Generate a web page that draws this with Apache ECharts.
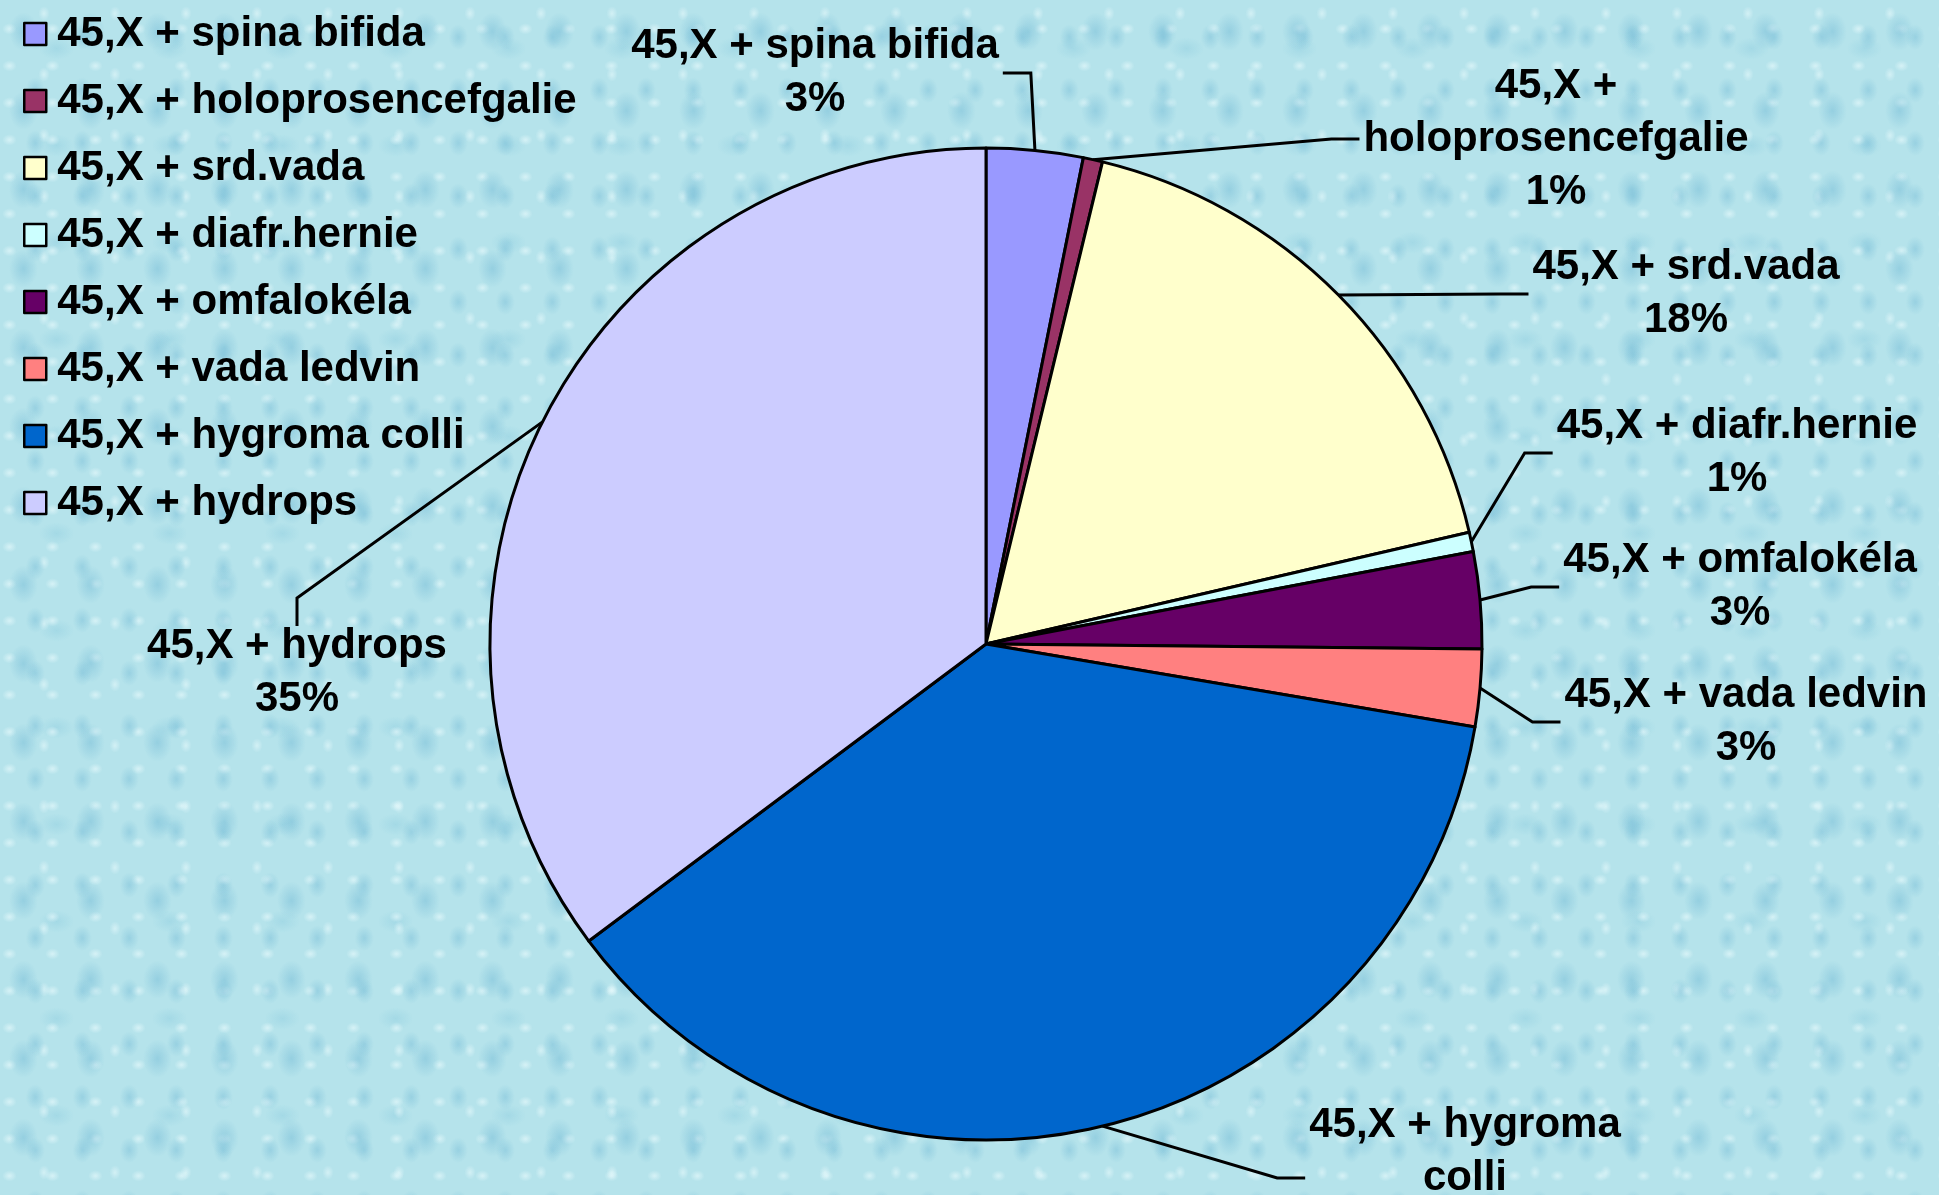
<!DOCTYPE html>
<html>
<head>
<meta charset="utf-8">
<title>45,X</title>
<script src="https://cdn.jsdelivr.net/npm/echarts@6/dist/echarts.min.js"></script>
<style>
  html, body {
    margin: 0;
    padding: 0;
    width: 100%;
    height: 100%;
    overflow: hidden;
  }
  body {
    background-color: #b5e3eb;
    background-image:
      radial-gradient(ellipse 18px 24px at 35% 40%, rgba(105, 180, 210, 0.42), rgba(105, 180, 210, 0) 80%),
      radial-gradient(ellipse 12px 16px at 75% 70%, rgba(105, 180, 210, 0.38), rgba(105, 180, 210, 0) 80%),
      radial-gradient(ellipse 9px 7px at 22% 78%, rgba(240, 253, 255, 0.55), rgba(240, 253, 255, 0) 80%),
      radial-gradient(ellipse 7px 9px at 62% 22%, rgba(240, 253, 255, 0.5), rgba(240, 253, 255, 0) 80%),
      radial-gradient(ellipse 22px 14px at 50% 50%, rgba(125, 195, 218, 0.3), rgba(125, 195, 218, 0) 80%);
    background-size: 67px 79px, 47px 53px, 43px 37px, 71px 61px, 113px 97px;
  }
  #chart {
    width: 1939px;
    height: 1195px;
  }
</style>
</head>
<body>
<div id="chart"></div>
<script>
// kategorie a pocty pripadu
const categories = [
  '45,X + spina bifida',
  '45,X + holoprosencefgalie',
  '45,X + srd.vada',
  '45,X + diafr.hernie',
  '45,X + omfalokéla',
  '45,X + vada ledvin',
  '45,X + hygroma colli',
  '45,X + hydrops'
];
const counts = [5, 1, 28, 1, 5, 4, 59, 56];

// texty popisku (zalomeni jako v puvodnim grafu)
const labelText = [
  '45,X + spina bifida',
  '45,X +\nholoprosencefgalie',
  '45,X + srd.vada',
  '45,X + diafr.hernie',
  '45,X + omfalokéla',
  '45,X + vada ledvin',
  '45,X + hygroma\ncolli',
  '45,X + hydrops'
];

const colors = ['#9999ff', '#993366', '#ffffcc', '#ccffff', '#660066', '#ff8080', '#0066cc', '#ccccff'];

// umisteni popisku (stred bloku) a strana, kam vede odkazova cara
const labelPos = [[815, 73], [1556, 139], [1686, 294], [1737, 453], [1740, 587], [1746, 722], [1465, 1178], [297, 673]];
const lineSide = ['right', 'left', 'left', 'left', 'left', 'left', 'left', 'top'];
const elbow = 28;

const chart = echarts.init(document.getElementById('chart'));

const option = {
  animation: false,
  backgroundColor: 'transparent',
  color: colors,
  legend: {
    orient: 'vertical',
    left: 18,
    top: 8,
    itemWidth: 22,
    itemHeight: 22,
    itemGap: 25,
    icon: 'rect',
    itemStyle: {
      borderColor: '#000',
      borderWidth: 2.5
    },
    textStyle: {
      color: '#000',
      fontFamily: 'Liberation Sans, Arial, sans-serif',
      fontWeight: 'bold',
      fontSize: 42,
      lineHeight: 42,
      padding: [0, 0, 0, 6]
    },
    data: categories
  },
  series: [
    {
      type: 'pie',
      center: [986, 644],
      radius: 496,
      startAngle: 90,
      clockwise: true,
      avoidLabelOverlap: false,
      itemStyle: {
        borderColor: '#000',
        borderWidth: 3
      },
      emphasis: { disabled: true },
      label: {
        show: true,
        position: 'outside',
        overflow: 'none',
        color: '#000',
        fontFamily: 'Liberation Sans, Arial, sans-serif',
        fontWeight: 'bold',
        fontSize: 42,
        lineHeight: 53,
        align: 'center',
        formatter: function (p) {
          return labelText[p.dataIndex] + '\n' + Math.round(p.percent) + '%';
        }
      },
      labelLine: {
        show: true,
        length: 20,
        length2: 20,
        lineStyle: {
          color: '#000',
          width: 3
        }
      },
      labelLayout: function (params) {
        const i = params.dataIndex;
        const cx = labelPos[i][0];
        const cy = labelPos[i][1];
        const w = params.labelRect.width;
        const h = params.labelRect.height;
        let end, mid;
        if (lineSide[i] === 'left') {
          end = [cx - w / 2 - 4, cy];
          mid = [end[0] - elbow, cy];
        } else if (lineSide[i] === 'right') {
          end = [cx + w / 2 + 4, cy];
          mid = [end[0] + elbow, cy];
        } else {
          end = [cx, cy - h / 2 + 6];
          mid = [cx, end[1] - elbow];
        }
        const pts = params.labelLinePoints;
        const start = pts ? pts[0] : mid;
        return {
          x: cx,
          y: cy,
          align: 'center',
          verticalAlign: 'middle',
          labelLinePoints: [start, mid, end]
        };
      },
      data: categories.map(function (name, i) {
        return { name: name, value: counts[i] };
      })
    }
  ]
};

chart.setOption(option);
</script>
</body>
</html>
